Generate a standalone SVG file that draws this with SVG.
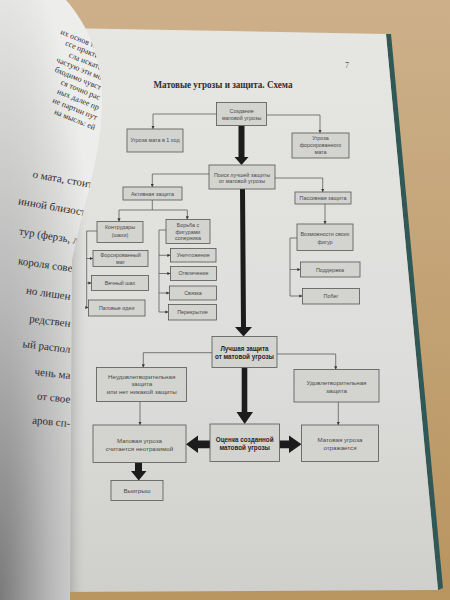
<svg xmlns="http://www.w3.org/2000/svg" width="450" height="600" viewBox="0 0 450 600">
<defs>
<linearGradient id="wood" x1="0" y1="0" x2="0" y2="1">
<stop offset="0" stop-color="#cdb08a"/><stop offset="1" stop-color="#b8945f"/>
</linearGradient>
<linearGradient id="page" x1="0" y1="0" x2="0" y2="1">
<stop offset="0" stop-color="#e6e6e3"/><stop offset="0.6" stop-color="#dddddb"/><stop offset="1" stop-color="#cfcfcc"/>
</linearGradient>
<linearGradient id="gutter" x1="0" y1="0" x2="1" y2="0">
<stop offset="0" stop-color="#9a9a98" stop-opacity="0.7"/><stop offset="1" stop-color="#d8d8d6" stop-opacity="0"/>
</linearGradient>
<radialGradient id="lshade" cx="0" cy="1" r="1.1">
<stop offset="0" stop-color="#7a7a7a"/><stop offset="0.45" stop-color="#b8b8b8"/><stop offset="1" stop-color="#ededeb"/>
</radialGradient>
<clipPath id="lclip"><path d="M0,0 L66,0 C88,25 104,60 102,110 C100,150 90,185 80,225 L72,260 L70,600 L0,600 Z"/></clipPath>
<marker id="ah" viewBox="0 0 6 6" refX="6" refY="3" markerWidth="3.6" markerHeight="3.2" markerUnits="userSpaceOnUse" orient="auto">
<path d="M0,0 L6,3 L0,6 Z" fill="#3a3a3a"/>
</marker>
<style>
.bx{fill:#d3d3d0;stroke:#555;stroke-width:0.8}
.t{font-family:"Liberation Sans",Arial,sans-serif;font-size:5.4px;fill:#4a4a4a;text-anchor:middle}
.tb{font-family:"Liberation Sans",Arial,sans-serif;font-size:6.3px;font-weight:bold;fill:#262626;text-anchor:middle}
.tm{font-family:"Liberation Sans",Arial,sans-serif;font-size:6.2px;fill:#4a4a4a;text-anchor:middle}
.c{fill:none;stroke:#4a4a4a;stroke-width:0.7}
.ca{fill:none;stroke:#4a4a4a;stroke-width:0.7;marker-end:url(#ah)}
.big{fill:#1c1c1c}
.lp{font-family:"Liberation Serif","Times New Roman",serif;fill:#2e2e2e;text-anchor:end}
</style>
</defs>
<!-- background: table, pages -->
<rect x="0" y="0" width="450" height="600" fill="url(#wood)"/>
<polygon points="386,34 391,34 443,588 438,590" fill="#2f5856"/>
<polygon points="60,28 386,34 438,590 60,592" fill="url(#page)"/>
<rect x="68" y="28" width="20" height="564" fill="url(#gutter)"/>
<g id="left-page">
<path d="M0,0 L66,0 C88,25 104,60 102,110 C100,150 90,185 80,225 L72,260 L70,600 L0,600 Z" fill="url(#lshade)"/>
<g clip-path="url(#lclip)">
<text class="lp" font-size="8" transform="translate(100,50) rotate(22)">их основ так</text>
<text class="lp" font-size="8" transform="translate(102,60) rotate(22)">ссе практич</text>
<text class="lp" font-size="8" transform="translate(101,70) rotate(22)">сла искать</text>
<text class="lp" font-size="8" transform="translate(101,80) rotate(22)">частую эти мо</text>
<text class="lp" font-size="8" transform="translate(100,90) rotate(22)">бходимо чувст</text>
<text class="lp" font-size="8" transform="translate(99,100) rotate(22)">ся точно рас</text>
<text class="lp" font-size="8" transform="translate(98,110) rotate(22)">ных далее пр</text>
<text class="lp" font-size="8" transform="translate(96,120) rotate(22)">ие партии пут</text>
<text class="lp" font-size="8" transform="translate(94,130) rotate(22)">на мысль: ей</text>
<text class="lp" font-size="11" transform="translate(92,188) rotate(10)">о мата, стоит</text>
<text class="lp" font-size="11" transform="translate(85,216) rotate(10)">инной близост</text>
<text class="lp" font-size="11" transform="translate(78,244) rotate(9)">тур (ферзь, л</text>
<text class="lp" font-size="11" transform="translate(72,272) rotate(8)">короля сове</text>
<text class="lp" font-size="11" transform="translate(70,300) rotate(8)">но лишен</text>
<text class="lp" font-size="11" transform="translate(70,327) rotate(7)">редствен</text>
<text class="lp" font-size="11" transform="translate(70,353) rotate(7)">ый распол</text>
<text class="lp" font-size="11" transform="translate(70,379) rotate(6)">чень ма</text>
<text class="lp" font-size="11" transform="translate(70,403) rotate(6)">от свое</text>
<text class="lp" font-size="11" transform="translate(70,427) rotate(5)">аров сп-</text>
</g>
</g>
<!-- heading -->
<text x="345" y="68" font-family="Liberation Serif,serif" font-size="8" fill="#555">7</text>
<text x="223" y="87.5" font-family="Liberation Serif,serif" font-size="9.6" font-weight="bold" fill="#2e2e2e" text-anchor="middle" textLength="139" lengthAdjust="spacingAndGlyphs">Матовые угрозы и защита. Схема</text>
<!-- connectors -->
<g id="connectors">
<path class="ca" d="M216.5,114 H153 V129"/>
<path class="ca" d="M266.5,115 H320 V133"/>
<path class="ca" d="M209,174 H152.3 V187"/>
<path class="ca" d="M275,178 H322.7 V192"/>
<path class="c" d="M152.3,200 V210 H187.3"/>
<path class="ca" d="M152.3,210 H119 V221.5"/>
<path class="ca" d="M187.3,210 V219.5"/>
<path class="c" d="M97,231 H86.7 V307.5"/>
<path class="ca" d="M86.7,258.5 H93"/>
<path class="ca" d="M86.7,283 H91.5"/>
<path class="ca" d="M86.7,307.5 H88.5"/>
<path class="c" d="M166,230 H159 V312"/>
<path class="ca" d="M159,255.3 H170.5"/>
<path class="ca" d="M159,273.5 H170.5"/>
<path class="ca" d="M159,293 H169.5"/>
<path class="ca" d="M159,312 H168.5"/>
<path class="ca" d="M325,204 V224"/>
<path class="c" d="M297,238 H290 V296"/>
<path class="ca" d="M290,269.5 H300.5"/>
<path class="ca" d="M290,296 H302.5"/>
<path class="ca" d="M212,352.7 H143.3 V367.5"/>
<path class="ca" d="M277,354 H335.7 V369.5"/>
<path class="ca" d="M140,401.5 V425"/>
<path class="ca" d="M338.3,402 V425"/>
<polygon class="big" points="238.5,125.5 244.5,125.5 244.5,157 248.5,157 241.5,165 234.5,157 238.5,157"/>
<polygon class="big" points="240,189 245,189 246,327 252,327 243.5,336.5 235,327 241,327"/>
<polygon class="big" points="241.7,367.5 247.3,367.5 247.3,412 253,412 244.7,424 236.5,412 241.7,412"/>
<polygon class="big" points="210,440.5 210,448.3 198,448.3 198,453 186,444.3 198,435.5 198,440.5"/>
<polygon class="big" points="279.5,440.5 279.5,448.3 289,448.3 289,453 301.5,444.3 289,435.5 289,440.5"/>
<polygon class="big" points="135,462.5 142,462.5 142,471 146.5,471 138.7,480.5 131,471 135,471"/>
</g>
<!-- nodes -->
<g id="n-sozdanie"><rect class="bx" x="216.5" y="102.5" width="50" height="23"/><text class="t" x="241.7" y="113.3">Создание</text><text class="t" x="241.7" y="119.6">матовой угрозы</text></g>
<g id="n-mat1"><rect class="bx" x="127" y="129" width="56" height="23"/><text class="t" x="155" y="141.9">Угроза мата в 1 ход</text></g>
<g id="n-forsmat"><rect class="bx" x="292" y="133" width="57" height="25"/><text class="t" x="320.5" y="140.2">Угроза</text><text class="t" x="320.5" y="147.4">форсированного</text><text class="t" x="320.5" y="154.2">мата</text></g>
<g id="n-poisk"><rect class="bx" x="209" y="165" width="66" height="24"/><text class="t" x="242" y="176.5">Поиск лучшей защиты</text><text class="t" x="242" y="182.6">от матовой угрозы</text></g>
<g id="n-aktiv"><rect class="bx" x="123" y="187" width="59" height="13"/><text class="t" x="152.5" y="195.6">Активная защита</text></g>
<g id="n-passiv"><rect class="bx" x="295" y="192" width="56" height="12"/><text class="t" x="323" y="200.1">Пассивная защита</text></g>
<g id="n-kontr"><rect class="bx" x="97" y="221.5" width="46" height="21"/><text class="t" x="120" y="229.4">Контрудары</text><text class="t" x="120" y="237">(шахи)</text></g>
<g id="n-borba"><rect class="bx" x="166" y="219.5" width="44" height="24"/><text class="t" x="188" y="227">Борьба с</text><text class="t" x="188" y="233.7">фигурами</text><text class="t" x="188" y="240.4">соперника</text></g>
<g id="n-vozm"><rect class="bx" x="297" y="224" width="56" height="26.5"/><text class="t" x="325" y="236">Возможности своих</text><text class="t" x="325" y="243.7">фигур</text></g>
<g id="n-forsmat2"><rect class="bx" x="93" y="250.5" width="55" height="16"/><text class="t" x="120.5" y="257">Форсированный</text><text class="t" x="120.5" y="263.8">мат</text></g>
<g id="n-vechny"><rect class="bx" x="91.5" y="275.5" width="57" height="15"/><text class="t" x="120" y="284.8">Вечный шах</text></g>
<g id="n-patovye"><rect class="bx" x="88.5" y="300" width="56.5" height="16"/><text class="t" x="116.7" y="309.5">Патовые идеи</text></g>
<g id="n-unichtozh"><rect class="bx" x="170.5" y="248.5" width="45.5" height="13.5"/><text class="t" x="193.3" y="257.1">Уничтожение</text></g>
<g id="n-otvlech"><rect class="bx" x="170.5" y="266.5" width="46" height="14"/><text class="t" x="193.5" y="275.4">Отвлечение</text></g>
<g id="n-svyazka"><rect class="bx" x="169.5" y="286" width="47" height="14"/><text class="t" x="193" y="294.9">Связка</text></g>
<g id="n-perekr"><rect class="bx" x="168.5" y="304.5" width="48" height="15.5"/><text class="t" x="192.5" y="314">Перекрытие</text></g>
<g id="n-podderzh"><rect class="bx" x="300.5" y="262" width="59.5" height="15"/><text class="t" x="330" y="271.6">Поддержка</text></g>
<g id="n-pobeg"><rect class="bx" x="302.5" y="288.5" width="57" height="15.5"/><text class="t" x="331" y="298">Побег</text></g>
<g id="n-luchshaya"><rect class="bx" x="212" y="336.5" width="65" height="31"/><text class="tb" x="244.5" y="350.6">Лучшая защита</text><text class="tb" x="244.5" y="358.9">от матовой угрозы</text></g>
<g id="n-neudovl"><rect class="bx" x="96.5" y="367.5" width="90" height="34"/><text class="tm" x="141.7" y="379">Неудовлетворительная</text><text class="tm" x="141.7" y="386.4">защита</text><text class="tm" x="141.7" y="394">или нет никакой защиты</text></g>
<g id="n-udovl"><rect class="bx" x="294" y="369.5" width="85" height="32.5"/><text class="tm" x="336.5" y="385">Удовлетворительная</text><text class="tm" x="336.5" y="393">защита</text></g>
<g id="n-neotraz"><rect class="bx" x="93" y="425" width="93" height="37.5"/><text class="tm" x="139.5" y="442.5" font-size="6.5">Матовая угроза</text><text class="tm" x="139.5" y="450.8" font-size="6.5">считается неотразимой</text></g>
<g id="n-ocenka"><rect class="bx" x="210" y="424" width="69.5" height="37.5"/><text class="tb" x="244.7" y="441.8" font-size="6.7">Оценка созданной</text><text class="tb" x="244.7" y="450.2" font-size="6.7">матовой угрозы</text></g>
<g id="n-otrazh"><rect class="bx" x="301.5" y="425" width="77" height="36.5"/><text class="tm" x="340" y="442.4" font-size="6.5">Матовая угроза</text><text class="tm" x="340" y="449.8" font-size="6.5">отражается</text></g>
<g id="n-vyigrysh"><rect class="bx" x="111" y="480.5" width="52" height="20"/><text class="tm" x="137" y="493" font-size="6.5">Выигрыш</text></g>
</svg>
